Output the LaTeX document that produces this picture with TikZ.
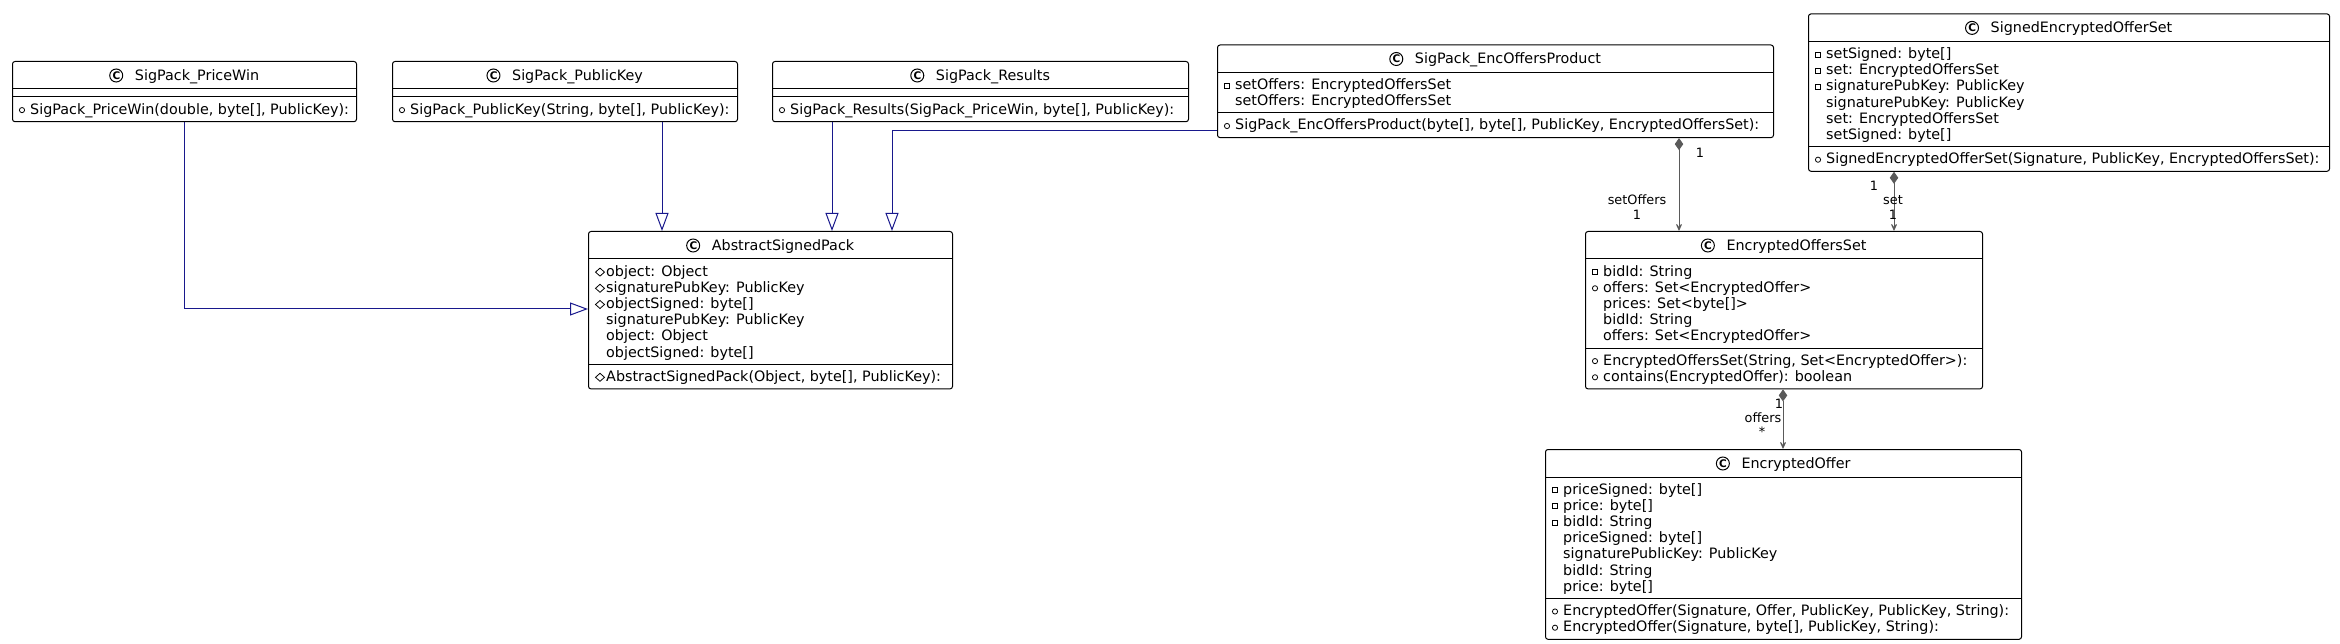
\documentclass[tikz,border=0pt]{standalone}
\usepackage{fontspec}
\setmainfont{DejaVu Sans}
\usetikzlibrary{arrows.meta,calc}
\definecolor{genblue}{RGB}{24,24,140}
\definecolor{compgray}{RGB}{90,90,90}
\newcommand\mfont{\fontsize{14.33}{16.2}\selectfont}
\newcommand\lfont{\fontsize{12.85}{14}\selectfont}
\newcommand\cfont{\bfseries\fontsize{10.5}{10.5}\selectfont}
\tikzset{
  clsbox/.style={draw=black, line width=1pt, rounded corners=2.5pt, fill=white, inner sep=0pt, anchor=north west},
  mtxt/.style={anchor=base west, inner sep=0pt, font=\mfont},
  ttxt/.style={anchor=base, inner sep=0pt, font=\mfont},
  lbl/.style={inner sep=0pt, font=\lfont},
  sepline/.style={draw=black, line width=1pt},
  icon/.style={draw=black, line width=0.8pt},
  gen/.style={draw=genblue, line width=1pt, -{Triangle[open, length=18pt, width=13pt]}},
  comp/.style={draw=compgray, line width=1pt, {Diamond[length=12pt, width=8.5pt, fill=compgray]}-{Stealth[length=11pt, width=10pt, inset=7pt, fill=compgray]}},
}
% name, x, y, w, nattr, nmeth, title
\newcommand\umlbox[7]{%
  \node[clsbox, minimum width=#4pt, minimum height={44pt+16.2pt*(#5+#6)}] (#1) at (#2,#3) {};
  \node[ttxt] (#1-t) at ($(#1.north)+(12.5,19.5)$) {#7};
  \draw[line width=1pt] ($(#1-t.base west)+(-18.5,-5)$) circle (6.5pt);
  \node[inner sep=0pt, font=\cfont] (#1-c) at ($(#1-t.base west)+(-18.3,-5)$) {C};
  \draw[sepline] ($(#1.north west)+(0,28)$) -- ($(#1.north east)+(0,28)$);
  \draw[sepline] ($(#1.north west)+(0,{36+16.2*#5})$) -- ($(#1.north east)+(0,{36+16.2*#5})$);
}
% icon at row centre; box, y offset, icon type
\newcommand\uicon[3]{%
  \ifcase#3\or
    \draw[icon] ($(#1.north west)+(7.5,{#2-1.5})$) rectangle ($(#1.north west)+(12.5,{#2+3.5})$);
  \or
    \draw[icon] ($(#1.north west)+(10,{#2+1})$) circle (2.6pt);
  \or
    \draw[icon] ($(#1.north west)+(7.5,{#2+1})$) -- ($(#1.north west)+(12,{#2-3})$) -- ($(#1.north west)+(16.5,{#2+1})$) -- ($(#1.north west)+(12,{#2+5})$) -- cycle;
  \fi
}
% box, k, icon, text
\newcommand\uattr[4]{%
  \node[mtxt] (#1-a#2) at ($(#1.north west)+(18,{45.1+16.2*#2})$) {#4};
  \uicon{#1}{40.1+16.2*#2}{#3}%
}
% box, nattr, k, icon, text
\newcommand\umeth[5]{%
  \node[mtxt] (#1-m#3) at ($(#1.north west)+(18,{53.1+16.2*(#2+#3)})$) {#5};
  \uicon{#1}{48.1+16.2*(#2+#3)}{#4}%
}
\begin{document}
\begin{tikzpicture}[x=1pt,y=-1pt]
\fill[white] (0,0) rectangle (2340,644);
\useasboundingbox (0,0) rectangle (2340,644);

% SigPack_PriceWin
\umlbox{pw}{12}{61}{344}{0}{1}{SigPack\_PriceWin}
\umeth{pw}{0}{0}{2}{SigPack\_PriceWin(double, byte[], PublicKey):}

% SigPack_PublicKey
\umlbox{pk}{392}{61}{345}{0}{1}{SigPack\_PublicKey}
\umeth{pk}{0}{0}{2}{SigPack\_PublicKey(String, byte[], PublicKey):}

% SigPack_Results
\umlbox{res}{772}{61}{416}{0}{1}{SigPack\_Results}
\umeth{res}{0}{0}{2}{SigPack\_Results(SigPack\_PriceWin, byte[], PublicKey):}

% SigPack_EncOffersProduct
\umlbox{ep}{1217}{44.5}{556}{2}{1}{SigPack\_EncOffersProduct}
\uattr{ep}{0}{1}{setOffers: EncryptedOffersSet}
\uattr{ep}{1}{0}{setOffers: EncryptedOffersSet}
\umeth{ep}{2}{0}{2}{SigPack\_EncOffersProduct(byte[], byte[], PublicKey, EncryptedOffersSet):}

% SignedEncryptedOfferSet
\umlbox{seos}{1808}{13.4}{521}{6}{1}{SignedEncryptedOfferSet}
\uattr{seos}{0}{1}{setSigned: byte[]}
\uattr{seos}{1}{1}{set: EncryptedOffersSet}
\uattr{seos}{2}{1}{signaturePubKey: PublicKey}
\uattr{seos}{3}{0}{signaturePubKey: PublicKey}
\uattr{seos}{4}{0}{set: EncryptedOffersSet}
\uattr{seos}{5}{0}{setSigned: byte[]}
\umeth{seos}{6}{0}{2}{SignedEncryptedOfferSet(Signature, PublicKey, EncryptedOffersSet):}

% AbstractSignedPack
\umlbox{asp}{588}{231}{364}{6}{1}{AbstractSignedPack}
\uattr{asp}{0}{3}{object: Object}
\uattr{asp}{1}{3}{signaturePubKey: PublicKey}
\uattr{asp}{2}{3}{objectSigned: byte[]}
\uattr{asp}{3}{0}{signaturePubKey: PublicKey}
\uattr{asp}{4}{0}{object: Object}
\uattr{asp}{5}{0}{objectSigned: byte[]}
\umeth{asp}{6}{0}{3}{AbstractSignedPack(Object, byte[], PublicKey):}

% EncryptedOffersSet
\umlbox{eos}{1585}{231}{397}{5}{2}{EncryptedOffersSet}
\uattr{eos}{0}{1}{bidId: String}
\uattr{eos}{1}{2}{offers: Set<EncryptedOffer>}
\uattr{eos}{2}{0}{prices: Set<byte[]>}
\uattr{eos}{3}{0}{bidId: String}
\uattr{eos}{4}{0}{offers: Set<EncryptedOffer>}
\umeth{eos}{5}{0}{2}{EncryptedOffersSet(String, Set<EncryptedOffer>):}
\umeth{eos}{5}{1}{2}{contains(EncryptedOffer): boolean}

% EncryptedOffer
\umlbox{eo}{1545}{449}{476}{7}{2}{EncryptedOffer}
\uattr{eo}{0}{1}{priceSigned: byte[]}
\uattr{eo}{1}{1}{price: byte[]}
\uattr{eo}{2}{1}{bidId: String}
\uattr{eo}{3}{0}{priceSigned: byte[]}
\uattr{eo}{4}{0}{signaturePublicKey: PublicKey}
\uattr{eo}{5}{0}{bidId: String}
\uattr{eo}{6}{0}{price: byte[]}
\umeth{eo}{7}{0}{2}{EncryptedOffer(Signature, Offer, PublicKey, PublicKey, String):}
\umeth{eo}{7}{1}{2}{EncryptedOffer(Signature, byte[], PublicKey, String):}

% generalizations
\coordinate (c1) at (184,309);
\draw[gen] (pw.south -| c1) -- (c1) -- (c1 -| asp.west);
\coordinate (c2) at (662,0);
\draw[gen] (pk.south -| c2) -- (asp.north -| c2);
\coordinate (c3) at (832,0);
\draw[gen] (res.south -| c3) -- (asp.north -| c3);
\coordinate (c4) at (892,131);
\draw[gen] (ep.west |- c4) -- (c4) -- (asp.north -| c4);

% compositions
\coordinate (c5) at (1679,0);
\draw[comp] (ep.south -| c5) -- (eos.north -| c5);
\node[lbl] (l5a) at (1700,153) {1};
\node[lbl] (l5b) at (1637,200) {setOffers};
\node[lbl] (l5c) at (1637,215) {1};

\coordinate (c6) at (1894,0);
\draw[comp] (seos.south -| c6) -- (eos.north -| c6);
\node[lbl] (l6a) at (1874,186) {1};
\node[lbl] (l6b) at (1893,200) {set};
\node[lbl] (l6c) at (1893,215) {1};

\coordinate (c7) at (1783,0);
\draw[comp] (eos.south -| c7) -- (eo.north -| c7);
\node[lbl] (l7a) at (1779,404) {1};
\node[lbl] (l7b) at (1763,418) {offers};
\node[lbl] (l7c) at (1762,432) {*};
\end{tikzpicture}
\end{document}
